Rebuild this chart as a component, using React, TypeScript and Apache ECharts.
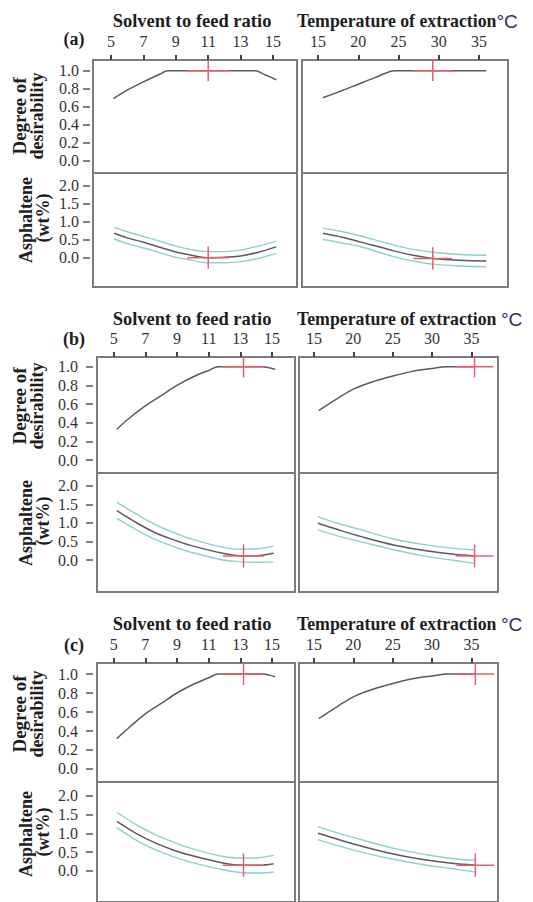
import React, { useEffect, useRef } from "react";
import * as echarts from "echarts";

// ---------- tick labels ----------
const solventTicks = [5, 7, 9, 11, 13, 15];
const tempTicks = [15, 20, 25, 30, 35];
const desirTicks = [0, 0.2, 0.4, 0.6, 0.8, 1.0];
const asphTicks = [0, 0.5, 1.0, 1.5, 2.0];

// ---------- panel (a) ----------
const aDesSolX = [5.15, 6, 7, 8, 8.5, 9, 10, 11, 12, 13, 13.9, 14.5, 15.2];
const aDesSolY = [0.69, 0.785, 0.875, 0.96, 1.0, 1.0, 1.0, 1.0, 1.0, 1.0, 1.0, 0.955, 0.9];
const aAspSolX = [5.2, 6, 7, 7.8, 9, 9.9, 10.9, 12, 13, 14, 15.2];
const aAspSolC = [0.68, 0.55, 0.43, 0.32, 0.16, 0.075, 0.0, 0.01, 0.05, 0.14, 0.3];
const aAspSolU = [0.84, 0.72, 0.59, 0.49, 0.32, 0.23, 0.17, 0.17, 0.21, 0.31, 0.46];
const aAspSolL = [0.52, 0.39, 0.27, 0.17, 0.01, -0.06, -0.14, -0.14, -0.11, -0.03, 0.12];
const aDesTmpX = [15.6, 18, 20, 22, 24.6, 27, 30, 33, 35.9];
const aDesTmpY = [0.7, 0.78, 0.85, 0.92, 1.0, 1.0, 1.0, 1.0, 1.0];
const aAspTmpX = [15.6, 18, 20.2, 24.4, 26.8, 29.3, 32.6, 35.9];
const aAspTmpC = [0.68, 0.57, 0.44, 0.19, 0.07, -0.02, -0.07, -0.09];
const aAspTmpU = [0.82, 0.72, 0.61, 0.35, 0.23, 0.15, 0.09, 0.07];
const aAspTmpL = [0.51, 0.41, 0.31, 0.03, -0.09, -0.18, -0.23, -0.25];
const aOpt = { solvent: 11.0, temp: 29.25, aspSol: 0.0, aspTmp: -0.02 };

// ---------- panel (b) ----------
const bDesSolX = [5.2, 6, 7, 8, 9, 10, 11, 11.6, 12.5, 14.4, 15.2];
const bDesSolY = [0.33, 0.45, 0.58, 0.69, 0.8, 0.89, 0.96, 1.0, 1.0, 1.0, 0.97];
const bAspSolX = [5.2, 6.5, 7.7, 8.8, 9.8, 11.9, 13.2, 14.2, 15.1];
const bAspSolC = [1.33, 0.99, 0.72, 0.54, 0.4, 0.18, 0.11, 0.12, 0.18];
const bAspSolU = [1.55, 1.22, 0.94, 0.74, 0.58, 0.34, 0.29, 0.31, 0.38];
const bAspSolL = [1.12, 0.8, 0.54, 0.36, 0.22, 0.0, -0.05, -0.06, -0.05];
const bDesTmpX = [15.6, 18, 20, 22.5, 25, 27.5, 30, 31.8, 33, 35.4];
const bDesTmpY = [0.53, 0.66, 0.76, 0.84, 0.9, 0.95, 0.98, 1.0, 1.0, 1.0];
const bAspTmpX = [15.5, 18, 21, 25.25, 29.5, 32.5, 35.4];
const bAspTmpC = [0.99, 0.82, 0.63, 0.4, 0.24, 0.16, 0.11];
const bAspTmpU = [1.17, 0.99, 0.81, 0.56, 0.4, 0.32, 0.27];
const bAspTmpL = [0.81, 0.65, 0.49, 0.27, 0.09, 0.0, -0.09];
const bOpt = { solvent: 13.2, temp: 35.4, aspSol: 0.11, aspTmp: 0.11 };

// ---------- panel (c) ----------
const cDesSolX = [5.2, 6, 7, 8, 9, 10, 11, 11.6, 12.5, 14.4, 15.2];
const cDesSolY = [0.32, 0.44, 0.58, 0.69, 0.8, 0.89, 0.96, 1.0, 1.0, 1.0, 0.97];
const cAspSolX = [5.2, 6.5, 7.7, 8.8, 9.8, 11.9, 13.2, 14.2, 15.1];
const cAspSolC = [1.32, 0.98, 0.73, 0.55, 0.42, 0.21, 0.15, 0.15, 0.19];
const cAspSolU = [1.56, 1.21, 0.95, 0.76, 0.61, 0.38, 0.34, 0.35, 0.41];
const cAspSolL = [1.15, 0.8, 0.55, 0.37, 0.24, 0.03, -0.05, -0.06, -0.03];
const cDesTmpX = [15.6, 18, 20, 22.5, 25, 27.5, 30, 32, 33, 35.5];
const cDesTmpY = [0.53, 0.66, 0.76, 0.84, 0.9, 0.95, 0.98, 1.0, 1.0, 1.0];
const cAspTmpX = [15.5, 18, 21, 25.25, 29.5, 32.5, 35.5];
const cAspTmpC = [1.0, 0.84, 0.66, 0.44, 0.28, 0.2, 0.15];
const cAspTmpU = [1.18, 1.01, 0.83, 0.59, 0.42, 0.33, 0.28];
const cAspTmpL = [0.83, 0.67, 0.5, 0.3, 0.14, 0.06, -0.03];
const cOpt = { solvent: 13.2, temp: 35.5, aspSol: 0.15, aspTmp: 0.15 };

const DATA = [
  {
    tag: "(a)",
    desSol: [aDesSolX, aDesSolY], aspSol: [aAspSolX, aAspSolC, aAspSolU, aAspSolL],
    desTmp: [aDesTmpX, aDesTmpY], aspTmp: [aAspTmpX, aAspTmpC, aAspTmpU, aAspTmpL],
    opt: aOpt, tempTitle: "Temperature of extraction",
  },
  {
    tag: "(b)",
    desSol: [bDesSolX, bDesSolY], aspSol: [bAspSolX, bAspSolC, bAspSolU, bAspSolL],
    desTmp: [bDesTmpX, bDesTmpY], aspTmp: [bAspTmpX, bAspTmpC, bAspTmpU, bAspTmpL],
    opt: bOpt, tempTitle: "Temperature of extraction ",
  },
  {
    tag: "(c)",
    desSol: [cDesSolX, cDesSolY], aspSol: [cAspSolX, cAspSolC, cAspSolU, cAspSolL],
    desTmp: [cDesTmpX, cDesTmpY], aspTmp: [cAspTmpX, cAspTmpC, cAspTmpU, cAspTmpL],
    opt: cOpt, tempTitle: "Temperature of extraction ",
  },
];

// ---------- layout (pixels) ----------
const LAYOUT = [
  { top: 60, mid: 173, bot: 287, L: [93, 297], R: [302, 508], xL: [3.89, 16.48], xR: [13.0, 38.6],
    yD: [-0.133, 1.118], yA: [-0.814, 2.353], yOff: 3, yMar: 11, yPad: 0,
    titleY: 21, tagY: 39, desY: 116, aspY: 220 },
  { top: 357, mid: 473, bot: 592, L: [97, 295], R: [299, 498], xL: [3.95, 16.45], xR: [13.09, 38.38],
    yD: [-0.139, 1.104], yA: [-0.861, 2.342], yOff: 4, yMar: 15, yPad: 10,
    titleY: 319, tagY: 339, desY: 406, aspY: 523 },
  { top: 663, mid: 782, bot: 904, L: [97, 295], R: [299, 498], xL: [3.95, 16.45], xR: [13.09, 38.38],
    yD: [-0.137, 1.116], yA: [-0.831, 2.367], yOff: 4, yMar: 15, yPad: 10,
    titleY: 624, tagY: 645, desY: 714, aspY: 834 },
];

const SERIF = "Liberation Serif";
const CURVE = "#5b5b5b";
const BAND = "#8fd0d0";
const RED = "#e4606e";
const BORDER = "#7c7c7c";
const HALF = { solvent: 1.3, temp: 2.4, des: 0.115, asp: 0.31 };

function zip(xs: number[], ys: number[]) {
  return xs.map((x, i) => [x, ys[i]]);
}

function buildOption() {
  const grid: any[] = [];
  const xAxis: any[] = [];
  const yAxis: any[] = [];
  const series: any[] = [];
  const graphic: any[] = [];

  const line = (gi: number, data: any[], color: string, width: number, z = 2) => {
    series.push({
      type: "line", xAxisIndex: gi, yAxisIndex: gi, data, showSymbol: false, symbol: "none",
      smooth: 0.35, lineStyle: { color, width }, z, silent: true,
    });
  };
  const cross = (gi: number, cx: number, cy: number, hx: number, hy: number) => {
    series.push({
      type: "line", xAxisIndex: gi, yAxisIndex: gi, data: [[cx - hx, cy], [cx + hx, cy]],
      showSymbol: false, symbol: "none", lineStyle: { color: RED, width: 1.5 }, z: 5, silent: true,
    });
    series.push({
      type: "line", xAxisIndex: gi, yAxisIndex: gi, data: [[cx, cy - hy], [cx, cy + hy]],
      showSymbol: false, symbol: "none", lineStyle: { color: RED, width: 1.5 }, z: 5, silent: true,
    });
  };

  LAYOUT.forEach((lay, k) => {
    const d = DATA[k];
    const cells = [
      { x: lay.L, t: lay.top, h: lay.mid - lay.top, xr: lay.xL, yr: lay.yD, topAxis: true, ticks: solventTicks, left: true, yt: desirTicks },
      { x: lay.L, t: lay.mid, h: lay.bot - lay.mid, xr: lay.xL, yr: lay.yA, topAxis: false, ticks: solventTicks, left: true, yt: asphTicks },
      { x: lay.R, t: lay.top, h: lay.mid - lay.top, xr: lay.xR, yr: lay.yD, topAxis: true, ticks: tempTicks, left: false, yt: desirTicks },
      { x: lay.R, t: lay.mid, h: lay.bot - lay.mid, xr: lay.xR, yr: lay.yA, topAxis: false, ticks: tempTicks, left: false, yt: asphTicks },
    ];
    const base = grid.length;
    cells.forEach((c) => {
      grid.push({
        left: c.x[0], top: c.t, width: c.x[1] - c.x[0], height: c.h,
        show: true, borderColor: BORDER, borderWidth: 2, backgroundColor: "transparent",
        containLabel: false,
      });
      const gi = grid.length - 1;
      xAxis.push({
        type: "value", gridIndex: gi, position: "top", min: c.xr[0], max: c.xr[1],
        show: c.topAxis,
        axisLine: { show: false, onZero: false },
        axisTick: { show: true, inside: false, length: 5, customValues: c.ticks, lineStyle: { color: "#444", width: 2 } },
        axisLabel: { show: true, customValues: c.ticks, margin: 11, fontFamily: SERIF, fontSize: 16, color: "#333" },
        splitLine: { show: false },
      });
      yAxis.push({
        type: "value", gridIndex: gi, position: "left", min: c.yr[0], max: c.yr[1],
        show: c.left, offset: lay.yOff,
        axisLine: { show: false, onZero: false },
        axisTick: { show: true, inside: false, length: 7, customValues: c.yt, lineStyle: { color: "#555", width: 1.5 } },
        axisLabel: {
          show: true, customValues: c.yt, margin: lay.yMar, fontFamily: SERIF, fontSize: 16, color: "#333",
          padding: [lay.yPad, 0, 0, 0], formatter: (v: number) => v.toFixed(1),
        },
        splitLine: { show: false },
      });
    });

    // top-left: desirability vs solvent
    line(base, zip(d.desSol[0], d.desSol[1]), CURVE, 1.5);
    cross(base, d.opt.solvent, 1.0, HALF.solvent, HALF.des);
    // bottom-left: asphaltene vs solvent
    line(base + 1, zip(d.aspSol[0], d.aspSol[2]), BAND, 1.4);
    line(base + 1, zip(d.aspSol[0], d.aspSol[3]), BAND, 1.4);
    line(base + 1, zip(d.aspSol[0], d.aspSol[1]), CURVE, 1.5, 3);
    cross(base + 1, d.opt.solvent, d.opt.aspSol, HALF.solvent, HALF.asp);
    // top-right: desirability vs temperature
    line(base + 2, zip(d.desTmp[0], d.desTmp[1]), CURVE, 1.5);
    cross(base + 2, d.opt.temp, 1.0, HALF.temp, HALF.des);
    // bottom-right: asphaltene vs temperature
    line(base + 3, zip(d.aspTmp[0], d.aspTmp[2]), BAND, 1.4);
    line(base + 3, zip(d.aspTmp[0], d.aspTmp[3]), BAND, 1.4);
    line(base + 3, zip(d.aspTmp[0], d.aspTmp[1]), CURVE, 1.5, 3);
    cross(base + 3, d.opt.temp, d.opt.aspTmp, HALF.temp, HALF.asp);

    // texts
    const bold = (size: number) => `bold ${size}px "${SERIF}"`;
    graphic.push({
      type: "text", x: 192, y: lay.titleY, silent: true,
      style: { text: "Solvent to feed ratio", font: bold(18.5), fill: "#1e1e1e", align: "center", verticalAlign: "middle" },
    });
    graphic.push({
      type: "text", x: 297, y: lay.titleY, silent: true,
      style: {
        text: `{t|${d.tempTitle}}{c|°C}`, align: "left", verticalAlign: "middle",
        rich: {
          t: { font: bold(17.8), fill: "#1e1e1e" },
          c: { fontFamily: "Liberation Sans", fontSize: 19, fill: "#1f2f66" },
        },
      },
    });
    graphic.push({
      type: "text", x: 74, y: lay.tagY, silent: true,
      style: { text: d.tag, font: bold(18), fill: "#1e1e1e", align: "center", verticalAlign: "middle" },
    });
    const vtext = (x: number, y: number, text: string, size: number) => graphic.push({
      type: "text", x, y, rotation: Math.PI / 2, silent: true,
      style: { text, font: bold(size), fill: "#1e1e1e", align: "center", verticalAlign: "middle" },
    });
    vtext(19, lay.desY, "Degree of", 19);
    vtext(37, lay.desY, "desirability", 18);
    vtext(26, lay.aspY, "Asphaltene", 18);
    vtext(43, lay.aspY - 2, "(wt%)", 18);
  });

  return { animation: false, backgroundColor: "#ffffff", grid, xAxis, yAxis, series, graphic };
}

export default function App() {
  const ref = useRef<HTMLDivElement>(null);
  useEffect(() => {
    if (!ref.current) return;
    document.body.style.overflow = "hidden";
    const chart = echarts.init(ref.current, undefined, { renderer: "svg" });
    chart.setOption(buildOption() as any);
    return () => chart.dispose();
  }, []);
  return (
    <div
      ref={ref}
      style={{ position: "absolute", left: 0, top: 0, width: 533, height: 902, background: "#fff" }}
    />
  );
}
